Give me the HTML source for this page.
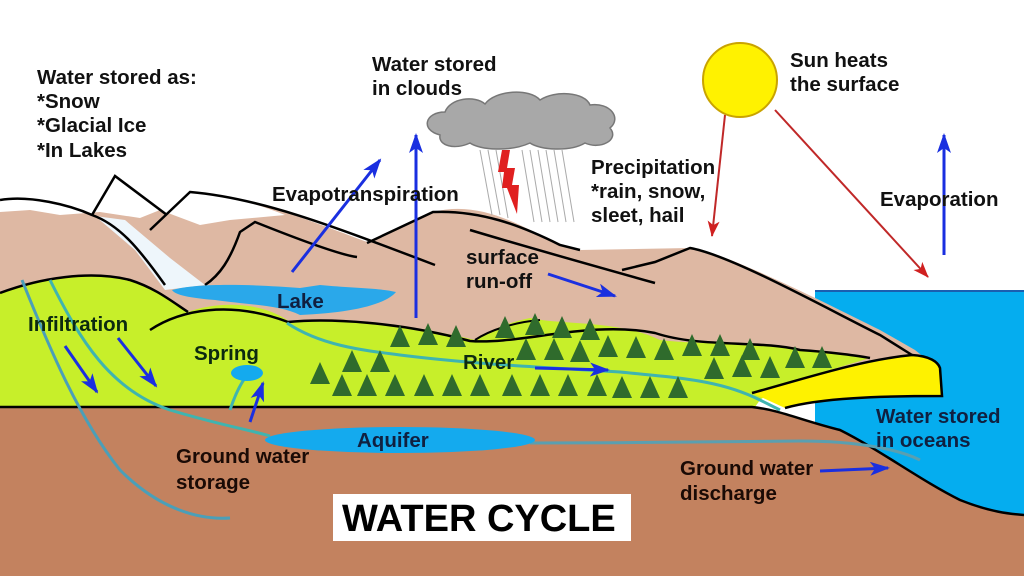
<!DOCTYPE html>
<html><head><meta charset="utf-8"><style>
html,body{margin:0;padding:0;background:#fff;}
svg{display:block}
text{font-family:"Liberation Sans",sans-serif;font-weight:bold;font-size:20.5px;fill:#111;}
</style></head><body>
<svg width="1024" height="576" viewBox="0 0 1024 576" xmlns="http://www.w3.org/2000/svg">
<defs>
<marker id="ab2" markerWidth="20" markerHeight="14" refX="18" refY="7" orient="auto" markerUnits="userSpaceOnUse"><path d="M0,0 L20,7 L0,14 L5,7 Z" fill="#1a2fe0"/></marker>
<marker id="ar" markerWidth="16" markerHeight="12" refX="15" refY="6" orient="auto" markerUnits="userSpaceOnUse"><path d="M0,0 L16,6 L0,12 L4,6 Z" fill="#d02020"/></marker>
</defs>
<rect width="1024" height="576" fill="#fff"/>
<rect x="815" y="291" width="209" height="285" fill="#05adef"/>
<line x1="815" y1="291" x2="1024" y2="291" stroke="#1a5fb0" stroke-width="2"/>
<path d="M0,200 C30,195 70,205 92,215 L115,176 L167,215 L190,192 C250,195 320,225 370,243 L433,212 C480,200 520,225 560,245 L580,250 L690,248 C720,250 820,300 880,330 L915,350 L940,370 L940,395 L0,395 Z" fill="#deb8a3"/>
<path d="M0,200 C30,195 70,205 92,215 L115,176 L167,215 L190,192 C230,195 260,205 285,215 L230,220 L200,225 L160,210 L140,218 L100,212 L60,215 L30,210 L0,212 Z" fill="#fff"/>
<path d="M95,216 L125,220 L170,258 L205,285 L165,290 L135,250 Z" fill="#eef6fb"/>
<path d="M0,200 C30,195 70,205 92,215 C120,225 140,250 165,285" fill="none" stroke="#000" stroke-width="2.5"/>
<path d="M92,215 L115,176 L167,215" fill="none" stroke="#000" stroke-width="2.5"/>
<path d="M150,230 L190,192 C260,198 330,225 435,265" fill="none" stroke="#000" stroke-width="2.5"/>
<path d="M205,285 C220,275 230,260 240,232 L255,222 C300,240 340,255 357,257" fill="none" stroke="#000" stroke-width="2.5"/>
<path d="M367,243 L433,212 C480,210 520,225 560,245 L580,250" fill="none" stroke="#000" stroke-width="2.5"/>
<path d="M622,270 L655,262 L690,248 C730,255 820,305 880,335 L912,355" fill="none" stroke="#000" stroke-width="2.5"/>
<path d="M470,230 C520,245 580,262 655,283" fill="none" stroke="#000" stroke-width="2.5"/>
<path d="M0,293 C40,278 90,270 130,280 C155,288 170,300 188,312 C215,302 260,300 290,322 C330,318 400,322 475,340 C490,330 510,322 530,318 C560,325 620,320 660,340 C700,345 760,342 800,350 C820,352 850,355 870,358 L780,385 L760,400 L755,407 L0,407 Z" fill="#c7ef2a"/>
<path d="M0,293 C40,278 90,270 130,280 C155,288 170,300 188,312" fill="none" stroke="#000" stroke-width="2.5"/>
<path d="M150,330 C180,310 230,300 288,322 C330,318 400,322 470,341 C520,345 590,320 655,333 C700,348 760,340 800,350 C830,352 860,356 870,358" fill="none" stroke="#000" stroke-width="2.5"/>
<path d="M475,340 C490,330 515,322 540,320" fill="none" stroke="#000" stroke-width="2"/>
<path d="M752,393 C800,380 860,360 912,355 C930,356 938,362 940,368 L942,396 C880,396 820,398 785,408 Z" fill="#fef200"/>
<path d="M752,393 C800,380 860,360 912,355 C930,356 938,362 940,368 L942,396 C880,396 820,398 785,408" fill="none" stroke="#000" stroke-width="2.5"/>
<path d="M172,290 C200,282 260,285 300,288 L320,285 C350,288 380,288 396,292 C385,305 350,313 300,315 C280,305 250,305 215,300 C190,298 175,295 172,290 Z" fill="#2aa8ea"/>
<path d="M0,407 L752,407 C780,410 800,420 840,430 C880,450 920,480 960,500 C990,512 1010,514 1024,515 L1024,576 L0,576 Z" fill="#c3825f"/>
<path d="M0,407 L752,407 C780,410 800,420 840,430 C880,450 920,480 960,500 C990,512 1010,514 1024,515" fill="none" stroke="#000" stroke-width="2.5"/>
<g fill="none" stroke="#3fb4b0" stroke-width="3">
<path d="M22,280 C50,350 80,420 120,470 C160,510 200,520 230,518" stroke="#4a9fb8"/>
<path d="M50,280 C80,340 110,390 170,410 C220,425 250,430 270,436"/>
<path d="M287,323 C320,345 360,350 400,355 C480,365 560,368 620,372 C680,378 720,380 760,400 L780,410"/>
<path d="M230,410 C235,395 240,385 245,378"/>
<path d="M530,443 C620,443 700,442 800,441 C860,441 900,450 920,460" stroke="#5a9fb0"/>
</g>
<ellipse cx="247" cy="373" rx="16" ry="8" fill="#14aaee"/>
<ellipse cx="400" cy="440" rx="135" ry="13" fill="#14aaee"/>
<g fill="#2f6b2c">
<path d="M400,325 l-10,22 h20 z M428,323 l-10,22 h20 z M456,325 l-10,22 h20 z M505,316 l-10,22 h20 z M535,313 l-10,22 h20 z M562,316 l-10,22 h20 z M590,318 l-10,22 h20 z M608,335 l-10,22 h20 z M636,336 l-10,22 h20 z M664,338 l-10,22 h20 z M692,334 l-10,22 h20 z M720,334 l-10,22 h20 z M750,338 l-10,22 h20 z M795,346 l-10,22 h20 z M822,346 l-10,22 h20 z M526,338 l-10,22 h20 z M554,338 l-10,22 h20 z M580,340 l-10,22 h20 z M742,355 l-10,22 h20 z M714,357 l-10,22 h20 z M770,356 l-10,22 h20 z M352,350 l-10,22 h20 z M380,350 l-10,22 h20 z M320,362 l-10,22 h20 z M342,374 l-10,22 h20 z M367,374 l-10,22 h20 z M395,374 l-10,22 h20 z M424,374 l-10,22 h20 z M452,374 l-10,22 h20 z M480,374 l-10,22 h20 z M512,374 l-10,22 h20 z M540,374 l-10,22 h20 z M568,374 l-10,22 h20 z M597,374 l-10,22 h20 z M622,376 l-10,22 h20 z M650,376 l-10,22 h20 z M678,376 l-10,22 h20 z"/>
</g>
<circle cx="740" cy="80" r="37" fill="#fff200" stroke="#c9a300" stroke-width="2"/>
<path d="M440,135 C420,130 425,112 445,112 C450,98 475,95 485,104 C495,90 530,88 540,100 C555,90 585,92 590,105 C610,102 622,118 610,128 C620,140 600,150 585,143 C570,152 540,150 530,143 C510,152 480,150 470,143 C455,150 438,146 440,135 Z" fill="#a8a8a8" stroke="#777" stroke-width="1.5"/>
<g stroke="#aaa" stroke-width="1">
<line x1="480" y1="150" x2="492" y2="215"/><line x1="488" y1="150" x2="500" y2="215"/><line x1="496" y1="150" x2="508" y2="218"/><line x1="522" y1="150" x2="534" y2="222"/><line x1="530" y1="150" x2="542" y2="222"/><line x1="538" y1="150" x2="550" y2="222"/><line x1="546" y1="150" x2="558" y2="222"/><line x1="554" y1="150" x2="566" y2="222"/><line x1="562" y1="150" x2="574" y2="222"/>
</g>
<path d="M502,150 L510,150 L507,168 L515,168 L512,185 L519,185 L517,214 L507,188 L502,188 L504,172 L498,172 Z" fill="#e02020"/>
<g stroke="#1a2fe0" stroke-width="3" fill="none">
<line x1="292" y1="272" x2="380" y2="160" marker-end="url(#ab2)"/>
<line x1="416" y1="318" x2="416" y2="135" marker-end="url(#ab2)"/>
<line x1="944" y1="255" x2="944" y2="135" marker-end="url(#ab2)"/>
<line x1="548" y1="274" x2="615" y2="296" marker-end="url(#ab2)"/>
<line x1="535" y1="368" x2="608" y2="370" marker-end="url(#ab2)"/>
<line x1="65" y1="346" x2="97" y2="392" marker-end="url(#ab2)"/>
<line x1="118" y1="338" x2="156" y2="386" marker-end="url(#ab2)"/>
<line x1="250" y1="422" x2="263" y2="383" marker-end="url(#ab2)"/>
<line x1="820" y1="471" x2="888" y2="468" marker-end="url(#ab2)"/>
</g>
<g stroke="#c02828" stroke-width="2" fill="none">
<line x1="725" y1="115" x2="712" y2="236" marker-end="url(#ar)"/>
<line x1="775" y1="110" x2="928" y2="277" marker-end="url(#ar)"/>
</g>
<rect x="333" y="494" width="298" height="47" fill="#fff"/>
<text x="342" y="531" style="font-size:38px;fill:#000">WATER CYCLE</text>
<text x="37" y="84">Water stored as:</text>
<text x="37" y="108">*Snow</text>
<text x="37" y="132">*Glacial Ice</text>
<text x="37" y="157">*In Lakes</text>
<text x="372" y="71">Water stored</text>
<text x="372" y="95">in clouds</text>
<text x="790" y="67">Sun heats</text>
<text x="790" y="91">the surface</text>
<text x="591" y="174">Precipitation</text>
<text x="591" y="198">*rain, snow,</text>
<text x="591" y="222">sleet, hail</text>
<text x="272" y="201">Evapotranspiration</text>
<text x="880" y="206">Evaporation</text>
<text x="466" y="264">surface</text>
<text x="466" y="288">run-off</text>
<text x="277" y="308" style="fill:#102040">Lake</text>
<text x="28" y="331" style="fill:#0c2a10">Infiltration</text>
<text x="194" y="360" style="fill:#0c2a10">Spring</text>
<text x="463" y="369" style="fill:#0c2a10">River</text>
<text x="357" y="447" style="fill:#102040">Aquifer</text>
<text x="176" y="463" style="fill:#1a0a05">Ground water</text>
<text x="176" y="489" style="fill:#1a0a05">storage</text>
<text x="876" y="423" style="fill:#102040">Water stored</text>
<text x="876" y="447" style="fill:#102040">in oceans</text>
<text x="680" y="475" style="fill:#1a0a05">Ground water</text>
<text x="680" y="500" style="fill:#1a0a05">discharge</text>
</svg>
</body></html>
